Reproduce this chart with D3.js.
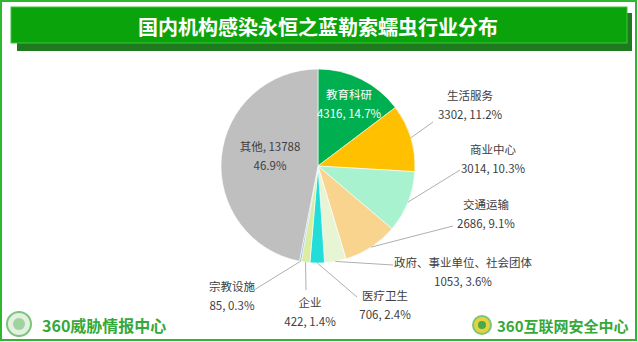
<!DOCTYPE html>
<html>
<head>
<meta charset="utf-8">
<script src="https://cdn.jsdelivr.net/npm/d3@7"></script>
<style>
  body { margin: 0; background: #fff; }
  text { font-family: "Microsoft YaHei", "Noto Sans CJK SC", sans-serif; }
</style>
</head>
<body>
<div id="chart"></div>
<script>
// 数据
var categories = ['教育科研', '生活服务', '商业中心', '交通运输', '政府、事业单位、社会团体', '医疗卫生', '企业', '宗教设施', '其他'];
var counts = [4316, 3302, 3014, 2686, 1053, 706, 422, 85, 13788];
var percents = ['14.7%', '11.2%', '10.3%', '9.1%', '3.6%', '2.4%', '1.4%', '0.3%', '46.9%'];

// 颜色
var colors = ['#00b050', '#ffc000', '#a8f2cf', '#f8d48f', '#e8f5d4', '#22ddd8', '#d9eda3', '#8db4e2', '#bfbfbf'];

// 标签位置（相对饼图中心），null 表示标签在扇区内
var labelXY = [[31, -72], [152, -71], [175, -17], [168, 38], [145, 96], [67, 129], [-8, 136], [-86, 120], [-48, -20]];
var leaderEnd = [null, [115, -44], [142, 4], [135, 60], [75, 99], [39, 131], [-12, 124], [-64, 124], null];

var width = 638, height = 342;
var cx = 318, cy = 166, radius = 97;

var svg = d3.select('#chart')
    .append('svg')
    .attr('width', width)
    .attr('height', height);

// 外框
svg.append('rect')
    .attr('x', 1).attr('y', 1)
    .attr('width', width - 3).attr('height', height - 3)
    .attr('fill', 'none')
    .attr('stroke', '#2db82d')
    .attr('stroke-width', 2);

// 标题栏
svg.append('rect')
    .attr('x', 17).attr('y', 13)
    .attr('width', 615).attr('height', 38)
    .attr('fill', '#1f7a1f');
svg.append('rect')
    .attr('x', 11).attr('y', 7)
    .attr('width', 616).attr('height', 36)
    .attr('fill', '#0ba30b')
    .attr('stroke', '#3cc43c')
    .attr('stroke-width', 1);
svg.append('text')
    .attr('x', 318).attr('y', 26)
    .attr('text-anchor', 'middle')
    .attr('dominant-baseline', 'central')
    .style('fill', '#fff')
    .style('font-size', '20px')
    .style('font-weight', 'bold')
    .text('国内机构感染永恒之蓝勒索蠕虫行业分布');

// 饼图
var dataset = categories.map(function(c, i) {
    return { name: c, value: counts[i], pct: percents[i], idx: i };
});
var pie = d3.pie().sort(null).value(function(d) { return d.value; });
var arcs = pie(dataset);
var arc = d3.arc().innerRadius(0).outerRadius(radius);
var edge = d3.arc().innerRadius(radius).outerRadius(radius);

var g = svg.append('g').attr('transform', 'translate(' + cx + ',' + cy + ')');

g.selectAll('path')
    .data(arcs)
    .enter()
    .append('path')
    .attr('d', arc)
    .attr('fill', function(d, i) { return colors[i]; })
    .attr('stroke', '#fff')
    .attr('stroke-width', 0.6);

// 引导线
g.selectAll('line.leader')
    .data(arcs.filter(function(d) { return leaderEnd[d.data.idx]; }))
    .enter()
    .append('line')
    .attr('class', 'leader')
    .attr('x1', function(d) { return edge.centroid(d)[0]; })
    .attr('y1', function(d) { return edge.centroid(d)[1]; })
    .attr('x2', function(d) { return leaderEnd[d.data.idx][0]; })
    .attr('y2', function(d) { return leaderEnd[d.data.idx][1]; })
    .attr('stroke', '#a6a6a6')
    .attr('stroke-width', 0.9);

// 标签
var labels = g.selectAll('g.label')
    .data(arcs)
    .enter()
    .append('g')
    .attr('class', 'label')
    .attr('transform', function(d) {
        var p = labelXY[d.data.idx];
        return 'translate(' + p[0] + ',' + p[1] + ')';
    });

labels.append('text')
    .attr('text-anchor', 'middle')
    .attr('dominant-baseline', 'central')
    .style('font-size', '11.5px')
    .style('fill', function(d) { return d.data.idx === 0 ? '#fff' : '#404040'; })
    .text(function(d) {
        return d.data.idx === 8 ? d.data.name + ', ' + d.data.value : d.data.name;
    });
labels.append('text')
    .attr('y', 19)
    .attr('text-anchor', 'middle')
    .attr('dominant-baseline', 'central')
    .style('font-size', '11.5px')
    .style('fill', function(d) { return d.data.idx === 0 ? '#fff' : '#404040'; })
    .text(function(d) {
        return d.data.idx === 8 ? d.data.pct : d.data.value + ', ' + d.data.pct;
    });

// 底部标识
var logoL = svg.append('g').attr('transform', 'translate(19,324)');
logoL.append('circle').attr('r', 12).attr('fill', '#e3f1e3').attr('stroke', '#7cc47c').attr('stroke-width', 2);
logoL.append('circle').attr('r', 6).attr('fill', '#9fd39f');
svg.append('text')
    .attr('x', 42).attr('y', 325)
    .attr('dominant-baseline', 'central')
    .style('fill', '#35a83a')
    .style('font-size', '16px')
    .style('font-weight', 'bold')
    .text('360威胁情报中心');

var logoR = svg.append('g').attr('transform', 'translate(482,325)');
logoR.append('circle').attr('r', 9).attr('fill', '#e6d23c').attr('stroke', '#7cc47c').attr('stroke-width', 2);
logoR.append('circle').attr('r', 4).attr('fill', '#4aa84a');
svg.append('text')
    .attr('x', 497).attr('y', 325)
    .attr('dominant-baseline', 'central')
    .style('fill', '#35a83a')
    .style('font-size', '15px')
    .style('font-weight', 'bold')
    .text('360互联网安全中心');
</script>
</body>
</html>
